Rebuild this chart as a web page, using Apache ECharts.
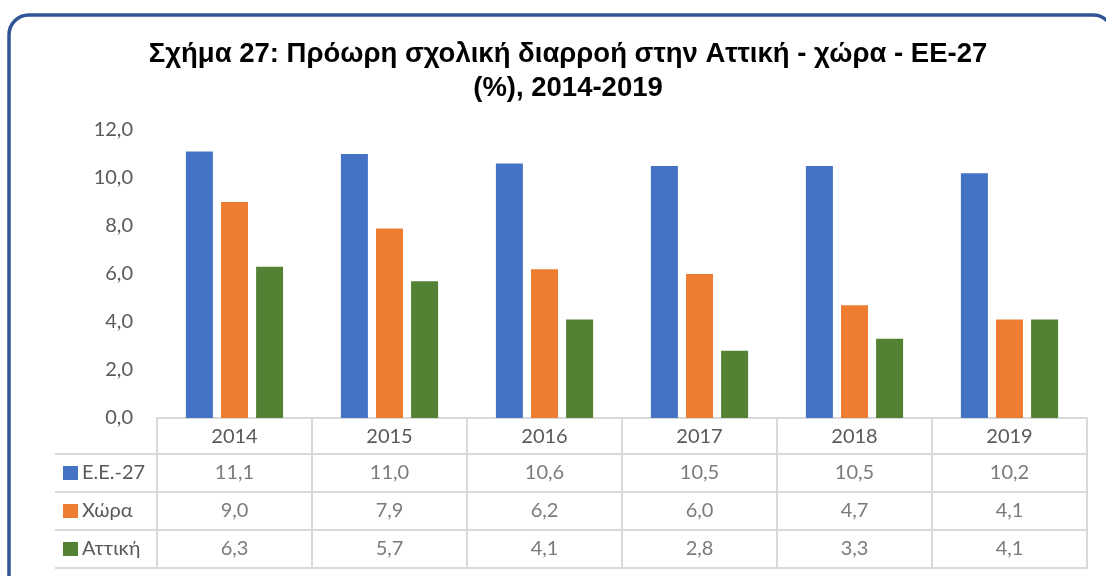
<!DOCTYPE html>
<html>
<head>
<meta charset="utf-8">
<script src="https://cdn.jsdelivr.net/npm/echarts@6/dist/echarts.min.js"></script>
<style>
  html, body { margin: 0; padding: 0; background: #fff; }
  #chart { width: 1106px; height: 576px; }
</style>
</head>
<body>
<div id="chart"></div>
<script>
const years = ['2014', '2015', '2016', '2017', '2018', '2019'];
const seriesNames = ['E.E.-27', 'Χώρα', 'Αττική'];
const eu27 = [11.1, 11.0, 10.6, 10.5, 10.5, 10.2];
const country = [9.0, 7.9, 6.2, 6.0, 4.7, 4.1];
const attica = [6.3, 5.7, 4.1, 2.8, 3.3, 4.1];
const yTicks = [0, 2, 4, 6, 8, 10, 12];

const colors = ['#4472C4', '#ED7D31', '#548235'];
const textColor = '#595959';
const lineColor = '#D9D9D9';
const font = 'Lato, "Open Sans", sans-serif';

const fmt = v => v.toFixed(1).replace('.', ',');

const allSeries = [eu27, country, attica];

// cells of the data table: [year index, row index, value]
const cells = [];
allSeries.forEach((vals, r) => {
    vals.forEach((v, c) => cells.push([c, r, v]));
});

const chart = echarts.init(document.getElementById('chart'));

const rowRich = { t: { fontSize: 20, color: textColor, fontFamily: font, padding: [0, 0, 0, 4] } };
colors.forEach((c, i) => {
    rowRich['sq' + i] = { width: 15, height: 14, backgroundColor: c };
});

const option = {
    animation: false,
    textStyle: { fontFamily: font },
    title: {
        text: 'Σχήμα 27: Πρόωρη σχολική διαρροή στην Αττική - χώρα - ΕΕ-27\n(%), 2014-2019',
        left: 563,
        top: 32,
        textAlign: 'center',
        textStyle: {
            fontFamily: '"Liberation Sans", Arial, sans-serif',
            fontWeight: 'bold',
            fontSize: 27.5,
            lineHeight: 34,
            color: '#000'
        }
    },
    graphic: [{
        type: 'rect',
        silent: true,
        shape: { x: 9, y: 15, width: 1104, height: 600, r: 20 },
        style: { fill: 'none', stroke: '#2F5597', lineWidth: 3.5 }
    }],
    grid: [
        { left: 157, right: 19, top: 130, height: 288 },
        { left: 157, right: 19, top: 454, height: 114, show: true, borderColor: lineColor, borderWidth: 2 }
    ],
    xAxis: [
        {
            type: 'category',
            gridIndex: 0,
            data: years,
            axisLine: { lineStyle: { color: lineColor, width: 2 } },
            axisTick: { show: true, length: 36, lineStyle: { color: lineColor, width: 2 } },
            axisLabel: { fontSize: 20, color: textColor, margin: 9 }
        },
        {
            type: 'category',
            gridIndex: 1,
            data: years,
            axisLine: { show: false },
            axisTick: { show: false },
            axisLabel: { show: false },
            splitLine: { show: true, lineStyle: { color: lineColor, width: 2 } }
        }
    ],
    yAxis: [
        {
            type: 'value',
            gridIndex: 0,
            min: 0,
            max: 12,
            interval: 2,
            axisLine: { show: false },
            axisTick: { show: false },
            splitLine: { show: false },
            axisLabel: {
                fontSize: 20,
                color: textColor,
                margin: 24,
                formatter: v => yTicks.includes(v) ? fmt(v) : ''
            }
        },
        {
            type: 'category',
            gridIndex: 1,
            inverse: true,
            data: seriesNames,
            axisLine: { show: false },
            axisTick: { show: true, length: 102, lineStyle: { color: lineColor, width: 2 } },
            splitLine: { show: true, lineStyle: { color: lineColor, width: 2 } },
            axisLabel: {
                align: 'left',
                margin: 94,
                formatter: (v, i) => '{sq' + i + '|}{t|' + v + '}',
                rich: rowRich
            }
        },
        {
            type: 'category',
            gridIndex: 1,
            inverse: true,
            data: seriesNames,
            offset: 102,
            axisLine: { show: true, lineStyle: { color: lineColor, width: 2 } },
            axisTick: { show: false },
            axisLabel: { show: false }
        }
    ],
    series: [
        ...allSeries.map((vals, i) => ({
            name: seriesNames[i],
            type: 'bar',
            xAxisIndex: 0,
            yAxisIndex: 0,
            data: vals,
            barWidth: 27,
            barGap: '30%',
            itemStyle: { color: colors[i] }
        })),
        {
            type: 'scatter',
            xAxisIndex: 1,
            yAxisIndex: 1,
            silent: true,
            data: cells,
            symbolSize: 1,
            itemStyle: { color: 'transparent' },
            label: {
                show: true,
                position: 'inside',
                fontSize: 20,
                color: textColor,
                fontFamily: font,
                formatter: p => fmt(p.value[2])
            }
        }
    ]
};

chart.setOption(option);
</script>
</body>
</html>
